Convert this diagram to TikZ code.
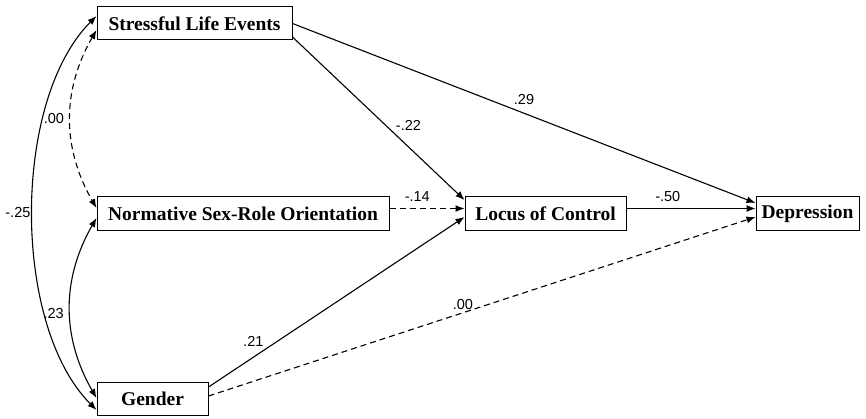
\documentclass[tikz,border=0pt]{standalone}
\usepackage{fontspec}
\setmainfont{Liberation Serif}
\newfontfamily\coeffont{Liberation Sans}
\usetikzlibrary{arrows.meta}

\begin{document}
\begin{tikzpicture}[x=1pt,y=1pt,
   var/.style={draw,line width=1pt,minimum height=33pt,inner sep=0pt,font=\fontsize{19.5}{22}\selectfont\bfseries},
   effect/.style={line width=1.1pt,-{Latex[length=9pt,width=7pt]}},
   nulleffect/.style={effect,dash pattern=on 6pt off 4pt},
   corr/.style={line width=1.1pt,{Latex[length=9pt,width=7pt]}-{Latex[length=9pt,width=7pt]}},
   coef/.style={font=\fontsize{14.5}{16}\selectfont\coeffont,inner sep=2pt}]
   \useasboundingbox (0,0) rectangle (866,418);
   % variables
   \node[var,minimum width=195pt] (sle) at (194.5,394.5) {Stressful Life Events};
   \node[var,minimum width=292pt] (nsro) at (243,204.5) {Normative Sex-Role Orientation};
   \node[var,minimum width=111pt] (gen) at (152.5,19.5) {Gender};
   \node[var,minimum width=161pt] (loc) at (545.5,204.5) {Locus of Control};
   \node[var,minimum width=103pt] (dep) at (807.5,204.5) {Depression};
   % paths
   \draw[effect] (sle.east) -- ([yshift=10.5pt]dep.west) node[coef,pos=.5,above=6pt] {.29};
   \draw[effect] ([yshift=-13.5pt]sle.east) -- ([yshift=13.5pt]loc.west) node[coef,pos=.54,right=8pt] {-.22};
   \draw[nulleffect] ([yshift=5pt]nsro.east) -- ([yshift=5pt]loc.west) node[coef,pos=.37,above=4pt] {-.14};
   \draw[effect] ([yshift=5pt]loc.east) -- ([yshift=5pt]dep.west) node[coef,pos=.32,above=4pt] {-.50};
   \draw[effect] ([yshift=11.5pt]gen.east) -- ([yshift=-3.5pt]loc.west) node[coef,pos=.175,above=8pt] {.21};
   \draw[nulleffect] ([yshift=2.5pt]gen.east) -- ([yshift=-3.5pt]dep.west) node[coef,pos=.465,above=1pt] {.00};
   % correlations
   \draw[corr,dash pattern=on 6pt off 4pt] ([yshift=-6.5pt]sle.west) to[out=240,in=120] node[coef,left=4pt] {.00} ([yshift=5.5pt]nsro.west);
   \draw[corr] ([yshift=-4.5pt]nsro.west) to[out=240,in=120] node[coef,pos=.53,left=4pt] {.23} ([yshift=.5pt]gen.west);
   \draw[corr] ([yshift=7.5pt]sle.west) to[out=225,in=135,looseness=.78] node[coef,left=0pt] {-.25} ([yshift=-11.5pt]gen.west);
\end{tikzpicture}
\end{document}
